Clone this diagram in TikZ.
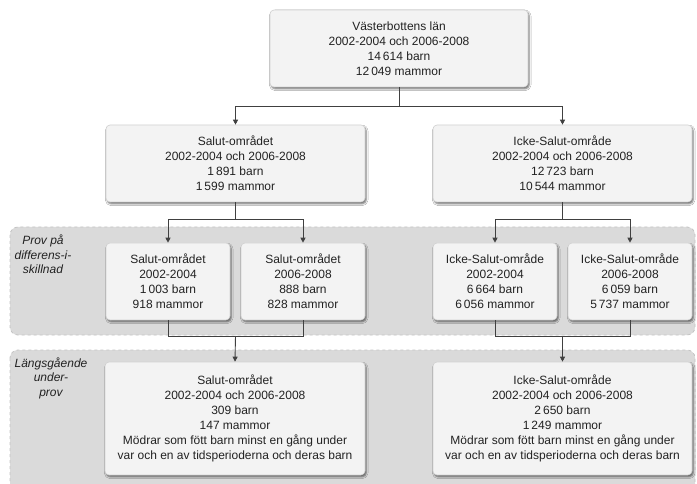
\documentclass[tikz,border=0pt]{standalone}
\usepackage{fontspec}
\setmainfont{Liberation Sans}
\usetikzlibrary{shadows.blur,arrows.meta}
\definecolor{boxfill}{HTML}{F3F3F3}
\definecolor{boxline}{HTML}{D2D2D2}
\definecolor{bandfill}{HTML}{DADADA}
\definecolor{bandline}{HTML}{C4C4C4}
\definecolor{ink}{HTML}{222222}
\definecolor{wire}{HTML}{404040}
\tikzset{
  infobox/.style={draw=boxline, line width=0.6pt, fill=boxfill, rounded corners=4pt,
    inner sep=0pt, align=center, text=ink,
    font=\fontsize{12}{15}\selectfont,
    blur shadow={shadow xshift=1.2pt, shadow yshift=-1.8pt, shadow blur steps=4,
      shadow blur radius=1.8pt, shadow opacity=60}},
  band/.style={fill=bandfill, draw=bandline, dashed, line width=0.8pt, rounded corners=8pt},
  bandlabel/.style={align=center, text=ink, inner sep=0pt,
    font=\fontsize{12}{14.5}\selectfont\itshape},
  wireline/.style={draw=wire, line width=0.9pt},
  wirearrow/.style={wireline, -{Triangle[width=5pt,length=5pt]}}
}
\begin{document}
\begin{tikzpicture}[x=1pt,y=-1pt]
\useasboundingbox (0,0) rectangle (697,484);
\fill[white] (0,0) rectangle (697,484);

% shaded bands behind the two lower levels
\begin{scope}
\clip (0,0) rectangle (697,484);
\path[band] (10,227) rectangle (695,335);
\path[band] (10,350) rectangle (695,495);
\end{scope}
\node[bandlabel] (lblA) at (43,254.5) {Prov på\\differens-i-\\skillnad};
\node[bandlabel] (lblB) at (51,378) {Längsgående\\under-\\prov};

% level 1
\node[infobox, minimum width=258pt, minimum height=77pt] (top) at (399,48.5)
  {Västerbottens län\\2002-2004 och 2006-2008\\14\,614 barn\\12\,049 mammor};

% level 2
\node[infobox, minimum width=259pt, minimum height=77pt] (salut) at (235.5,163.5)
  {Salut-området\\2002-2004 och 2006-2008\\1\,891 barn\\1\,599 mammor};
\node[infobox, minimum width=259pt, minimum height=77pt] (icke) at (562.5,163.5)
  {Icke-Salut-område\\2002-2004 och 2006-2008\\12\,723 barn\\10\,544 mammor};

% level 3
\node[infobox, minimum width=124pt, minimum height=77pt] (s1) at (168,281.5)
  {Salut-området\\2002-2004\\1\,003 barn\\918 mammor};
\node[infobox, minimum width=124pt, minimum height=77pt] (s2) at (303,281.5)
  {Salut-området\\2006-2008\\888 barn\\828 mammor};
\node[infobox, minimum width=124pt, minimum height=77pt] (i1) at (495,281.5)
  {Icke-Salut-område\\2002-2004\\6\,664 barn\\6\,056 mammor};
\node[infobox, minimum width=124pt, minimum height=77pt] (i2) at (630,281.5)
  {Icke-Salut-område\\2006-2008\\6\,059 barn\\5\,737 mammor};

% level 4
\node[infobox, minimum width=260pt, minimum height=113pt] (sl) at (235,418.5)
  {Salut-området\\2002-2004 och 2006-2008\\309 barn\\147 mammor\\Mödrar som fött barn minst en gång under\\var och en av tidsperioderna och deras barn};
\node[infobox, minimum width=259pt, minimum height=113pt] (il) at (562.5,418.5)
  {Icke-Salut-område\\2002-2004 och 2006-2008\\2\,650 barn\\1\,249 mammor\\Mödrar som fött barn minst en gång under\\var och en av tidsperioderna och deras barn};

% junction points of the connectors
\coordinate (j0) at (399,106);
\coordinate (js) at (235.5,219);
\coordinate (ji) at (562.5,219);
\coordinate (ks) at (235.5,336);
\coordinate (ki) at (562.5,336);

% connectors
\draw[wireline] (top.south) -- (j0);
\draw[wirearrow] (j0) -| (salut.north);
\draw[wirearrow] (j0) -| (icke.north);

\draw[wireline] (salut.south) -- (js);
\draw[wirearrow] (js) -| (s1.north);
\draw[wirearrow] (js) -| (s2.north);
\draw[wireline] (icke.south) -- (ji);
\draw[wirearrow] (ji) -| (i1.north);
\draw[wirearrow] (ji) -| (i2.north);

\draw[wireline] (s1.south) |- (ks);
\draw[wireline] (s2.south) |- (ks);
\draw[wirearrow] (ks) -- (sl.north);
\draw[wireline] (i1.south) |- (ki);
\draw[wireline] (i2.south) |- (ki);
\draw[wirearrow] (ki) -- (il.north);
\end{tikzpicture}
\end{document}
